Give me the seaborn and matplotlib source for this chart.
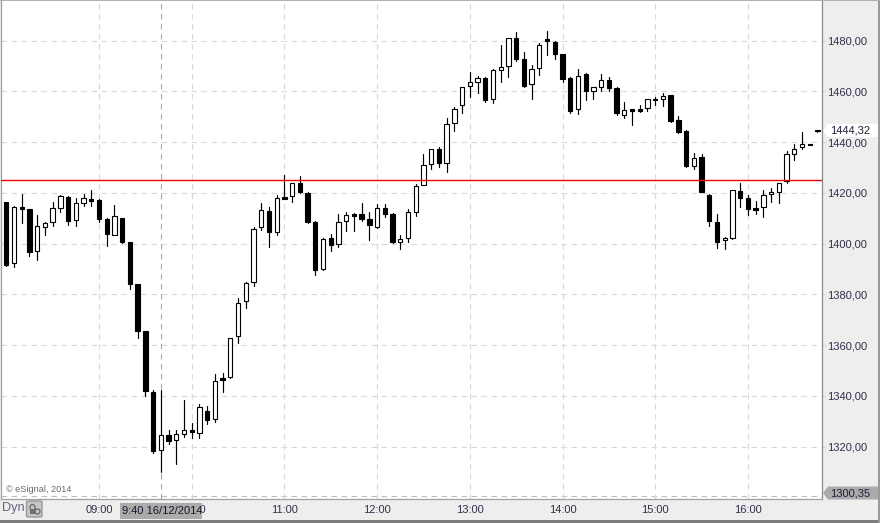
import matplotlib
matplotlib.use("Agg")
import matplotlib.pyplot as plt
import numpy as np
import pandas as pd
import seaborn as sns
from matplotlib.patches import Ellipse, Polygon, Rectangle, FancyBboxPatch

# Five-minute bars from 08:00, values in index points
opens = [1416.4, 1392.2, 1414.3, 1413.6, 1396.9, 1406.6, 1408.3, 1413.9, 1418.2, 1409.1,
         1416.1, 1417.4, 1417.1, 1409.5, 1403.2, 1410.1, 1400.6, 1384.0, 1365.5, 1341.5,
         1318.8, 1324.5, 1322.4, 1324.8, 1326.4, 1325.2, 1334.0, 1330.7, 1346.9, 1347.3,
         1363.4, 1377.2, 1384.7, 1406.4, 1412.7, 1404.4, 1418.2, 1418.6, 1423.7, 1419.9,
         1408.5, 1389.8, 1402.0, 1399.7, 1408.7, 1411.5, 1411.5, 1409.5, 1406.6, 1413.9,
         1411.5, 1400.7, 1402.0, 1412.3, 1422.9, 1431.2, 1437.1, 1431.6, 1447.4, 1454.4,
         1461.9, 1463.5, 1465.1, 1456.8, 1468.5, 1469.8, 1480.9, 1472.6, 1462.7, 1469.0,
         1480.5, 1479.3, 1474.5, 1465.2, 1453.1, 1466.8, 1460.2, 1461.8, 1464.3, 1461.3,
         1450.8, 1452.9, 1452.9, 1453.3, 1457.0, 1456.8, 1458.4, 1448.5, 1444.3, 1430.7,
         1434.0, 1419.1, 1408.3, 1401.2, 1402.3, 1420.6, 1417.8, 1413.9, 1414.2, 1419.4,
         1420.2, 1424.6, 1435.1, 1437.9, 1439.3, 1444.6]
closes = [1391.5, 1414.3, 1413.7, 1396.8, 1406.8, 1408.0, 1413.9, 1418.6, 1409.0, 1415.8,
          1417.8, 1416.9, 1409.8, 1403.7, 1410.7, 1400.6, 1384.0, 1365.6, 1342.0, 1318.4,
          1324.4, 1322.3, 1324.8, 1326.4, 1325.9, 1335.4, 1330.6, 1345.7, 1346.4, 1362.6,
          1376.4, 1384.3, 1405.6, 1413.1, 1404.7, 1417.8, 1417.7, 1424.0, 1420.4, 1408.6,
          1389.7, 1401.6, 1399.5, 1408.3, 1411.1, 1411.0, 1409.8, 1407.4, 1413.9, 1411.8,
          1400.7, 1401.6, 1412.3, 1422.5, 1430.8, 1437.1, 1431.9, 1447.0, 1453.1, 1461.5,
          1463.5, 1465.1, 1456.7, 1468.2, 1469.4, 1480.9, 1472.8, 1462.2, 1468.6, 1478.1,
          1480.0, 1474.8, 1465.0, 1452.3, 1465.9, 1460.2, 1461.5, 1464.3, 1461.4, 1451.6,
          1452.5, 1452.3, 1452.3, 1456.8, 1456.4, 1458.1, 1448.3, 1444.1, 1430.5, 1433.6,
          1420.4, 1409.0, 1400.7, 1402.0, 1421.0, 1418.1, 1413.7, 1413.3, 1419.0, 1420.2,
          1424.0, 1435.1, 1437.4, 1439.3, 1439.0, 1444.32]
highs = [1416.4, 1414.8, 1419.5, 1413.6, 1411.2, 1408.6, 1416.2, 1419.1, 1418.7, 1417.9,
         1419.5, 1421.1, 1417.4, 1409.9, 1415.2, 1410.1, 1400.6, 1384.0, 1365.5, 1342.3,
         1342.3, 1326.5, 1326.5, 1338.3, 1329.3, 1336.8, 1336.0, 1348.6, 1349.0, 1362.6,
         1378.5, 1384.8, 1406.5, 1416.0, 1414.3, 1419.1, 1427.0, 1424.0, 1426.6, 1420.2,
         1408.7, 1402.0, 1403.6, 1411.5, 1412.3, 1412.2, 1416.0, 1412.3, 1415.4, 1415.4,
         1411.9, 1403.2, 1413.5, 1423.3, 1435.1, 1437.1, 1437.9, 1449.3, 1453.7, 1461.5,
         1467.5, 1465.9, 1465.5, 1468.6, 1478.1, 1480.9, 1483.4, 1475.3, 1470.3, 1478.9,
         1483.7, 1479.8, 1474.5, 1465.5, 1468.6, 1467.1, 1461.5, 1466.7, 1465.5, 1461.5,
         1455.6, 1452.9, 1454.6, 1456.8, 1457.7, 1459.3, 1458.4, 1450.1, 1444.7, 1435.5,
         1435.1, 1419.5, 1411.5, 1402.4, 1421.2, 1423.8, 1419.0, 1416.8, 1421.1, 1421.9,
         1424.0, 1436.4, 1439.1, 1443.8, 1439.3, 1444.6]
lows = [1391.1, 1390.9, 1408.2, 1395.1, 1393.5, 1403.4, 1407.0, 1412.5, 1407.3, 1406.9,
        1414.8, 1414.8, 1408.6, 1399.0, 1403.2, 1400.2, 1382.1, 1362.9, 1339.9, 1317.5,
        1310.1, 1321.0, 1313.1, 1323.8, 1323.4, 1323.4, 1328.9, 1329.7, 1341.5, 1346.9,
        1360.8, 1374.6, 1383.3, 1405.3, 1398.6, 1403.4, 1417.7, 1416.5, 1420.0, 1408.2,
        1387.6, 1389.4, 1397.2, 1398.8, 1405.1, 1405.1, 1409.0, 1401.4, 1406.0, 1410.6,
        1400.2, 1398.0, 1400.7, 1411.0, 1422.9, 1429.4, 1430.2, 1428.2, 1444.3, 1451.4,
        1457.7, 1459.3, 1455.8, 1455.4, 1463.7, 1465.6, 1472.1, 1461.7, 1457.0, 1466.4,
        1474.3, 1472.7, 1463.7, 1451.4, 1451.0, 1456.6, 1457.0, 1460.2, 1460.2, 1450.6,
        1449.5, 1446.7, 1451.8, 1452.2, 1454.6, 1454.2, 1448.0, 1443.7, 1430.2, 1429.4,
        1420.3, 1406.9, 1398.2, 1397.8, 1401.9, 1414.5, 1411.4, 1411.8, 1410.4, 1416.4,
        1416.0, 1424.0, 1432.9, 1437.4, 1439.0, 1444.0]

reference_level = 1424.9
last_price = 1444.32
scale_floor = 1300.35
cursor_bar = 20
cursor_label = "9:40 16/12/2014"
price_ticks = [1320, 1340, 1360, 1380, 1400, 1420, 1440, 1460, 1480]
hour_bars = [12, 24, 36, 48, 60, 72, 84, 96]
hour_labels = ["09:00", "10:00", "11:00", "12:00", "13:00", "14:00", "15:00", "16:00"]

PANEL = "#EEEEEE"
FRAME = "#8C8C8C"
GRID = "#D9D9D9"
TEXT = "#30304A"
TAG = "#ABABAB"
LABEL_SIZE = 8.0

sns.set_theme(style="white", rc={"font.family": ["Liberation Sans", "DejaVu Sans"]})

bars = pd.DataFrame({"bar": np.arange(len(opens)), "open": opens, "close": closes,
                     "high": highs, "low": lows})
bars["top"] = bars[["open", "close"]].max(axis=1)
bars["bottom"] = bars[["open", "close"]].min(axis=1)
bars["body"] = bars["top"] - bars["bottom"]
rising = bars[bars["close"] >= bars["open"]]
falling = bars[bars["close"] < bars["open"]]

W, H = 880, 523
fig = plt.figure(figsize=(W / 100, H / 100), dpi=100, facecolor=PANEL)
ax = fig.add_axes([1 / W, 1 - 499 / H, 821 / W, 498 / H], facecolor="white")

# Wicks, one vertical segment per bar
wicks = bars.melt(id_vars="bar", value_vars=["high", "low"], value_name="price")
sns.lineplot(data=wicks, x="bar", y="price", units="bar", estimator=None,
             color="black", linewidth=0.85, ax=ax, zorder=3, legend=False)

# Candle bodies
sns.barplot(data=falling, x="bar", y="body", bottom=falling["bottom"].to_numpy(),
            native_scale=True, color="black", saturation=1, width=0.56, errorbar=None,
            edgecolor="black", linewidth=0.8, ax=ax, zorder=4)
sns.barplot(data=rising, x="bar", y="body", bottom=rising["bottom"].to_numpy(),
            native_scale=True, color="white", saturation=1, width=0.56, errorbar=None,
            edgecolor="black", linewidth=0.8, ax=ax, zorder=4)

bar_step = 7.725
ax.set_xlim(-5.3 / bar_step, (821 - 5.3) / bar_step)
px_per_point = 2.5375
ax.set_ylim(1480 - (499 - 40.5) / px_per_point, 1480 + 39.5 / px_per_point)

# Dashed grid on the price levels and on each hour
dash = (0, (5, 4))
for level in price_ticks:
    ax.axhline(level, color=GRID, lw=0.8, ls=dash, zorder=1)
ax.axhline(scale_floor, color="#BEBEBE", lw=0.8, ls=dash, zorder=1)
for hour in hour_bars:
    ax.axvline(hour, color=GRID, lw=0.8, ls=dash, zorder=1)
ax.axvline(cursor_bar, color="#A8A8A8", lw=0.8, ls=dash, zorder=2)
ax.axhline(reference_level, color="#F00000", lw=1.0, zorder=5)

ax.set_xlabel("")
ax.set_ylabel("")
ax.set_xticks(hour_bars, hour_labels)
ax.set_yticks(price_ticks, [f"{p},00" for p in price_ticks])
ax.yaxis.tick_right()
ax.tick_params(axis="x", length=3, width=0.8, color=FRAME, labelsize=LABEL_SIZE, labelcolor=TEXT, pad=1.5)
ax.tick_params(axis="y", length=3, width=0.8, color=GRID, labelsize=LABEL_SIZE, labelcolor=TEXT, pad=1)
for side, spine in ax.spines.items():
    spine.set_visible(True)
    spine.set_color("#A0A0A0" if side != "right" else FRAME)
    spine.set_linewidth(0.9)
ax.spines["top"].set_visible(False)

ax.text(5 / 821, 10 / 498, "© eSignal, 2014", transform=ax.transAxes, fontsize=6.6,
        color="#6A6A6A", va="center", ha="left", zorder=6)


def px(x, y):
    """Figure coordinates for a position given in pixels from the top left."""
    return x / W, 1 - y / H


def add_price_tag(value, centre, fill, ink):
    left, right, half = 823, 878, 6.5
    corners = [px(left, centre), px(left + 5, centre - half), px(right, centre - half),
               px(right, centre + half), px(left + 5, centre + half)]
    fig.add_artist(Polygon(corners, closed=True, transform=fig.transFigure,
                           facecolor=fill, edgecolor="none", zorder=6))
    x, y = px(830, centre)
    fig.text(x, y, f"{value:.2f}".replace(".", ","), fontsize=LABEL_SIZE, color=ink,
             va="center", ha="left", zorder=7)


add_price_tag(last_price, 130.5, "white", "#1E1E3A")
add_price_tag(scale_floor, 493, TAG, "#1E1E3A")

# Time cursor label at the foot of the chart
x0, y0 = px(120, 519)
x1, y1 = px(202, 503)
fig.add_artist(Rectangle((x0, y0), x1 - x0, y1 - y0, transform=fig.transFigure,
                         facecolor=TAG, edgecolor="none", zorder=6))
x, y = px(122, 511)
fig.text(x, y, cursor_label, fontsize=LABEL_SIZE, color="#15152A", va="center", ha="left", zorder=7)

# Scale mode label and its locked button
x, y = px(2, 508.5)
fig.text(x, y, "Dyn", fontsize=9.2, color="#66667A", va="center", ha="left", zorder=7)
bx, by = px(26.5, 517)
fig.add_artist(FancyBboxPatch((bx, by), 15.5 / W, 16 / H, boxstyle="round,pad=0,rounding_size=0.002",
                              transform=fig.transFigure, facecolor="#C6C6C6",
                              edgecolor="#9A9A9A", lw=1, zorder=6))
cx, cy = px(32.5, 507.5)
fig.add_artist(Ellipse((cx, cy), 5 / W, 6 / H, transform=fig.transFigure,
                       facecolor="none", edgecolor="#707070", lw=1, zorder=7))
lx, ly = px(29.5, 514)
fig.add_artist(Rectangle((lx, ly), 6 / W, 5 / H, transform=fig.transFigure,
                         facecolor="#707070", edgecolor="none", zorder=7))
cx, cy = px(37.5, 511.5)
fig.add_artist(Ellipse((cx, cy), 5 / W, 5 / H, transform=fig.transFigure,
                       facecolor="none", edgecolor="#707070", lw=1, zorder=7))

# Window frame
fig.add_artist(Rectangle(px(0, 523), 1, 3 / H, transform=fig.transFigure,
                         facecolor="#7C7C7C", edgecolor="none", zorder=8))
fig.add_artist(Rectangle(px(878, 523), 2 / W, 1, transform=fig.transFigure,
                         facecolor="#9A9A9A", edgecolor="none", zorder=8))
fig.add_artist(Rectangle(px(0, 1), 1, 1 / H, transform=fig.transFigure,
                         facecolor="#B0B0B0", edgecolor="none", zorder=8))

fig.savefig("out.png", dpi=100, facecolor=fig.get_facecolor())
